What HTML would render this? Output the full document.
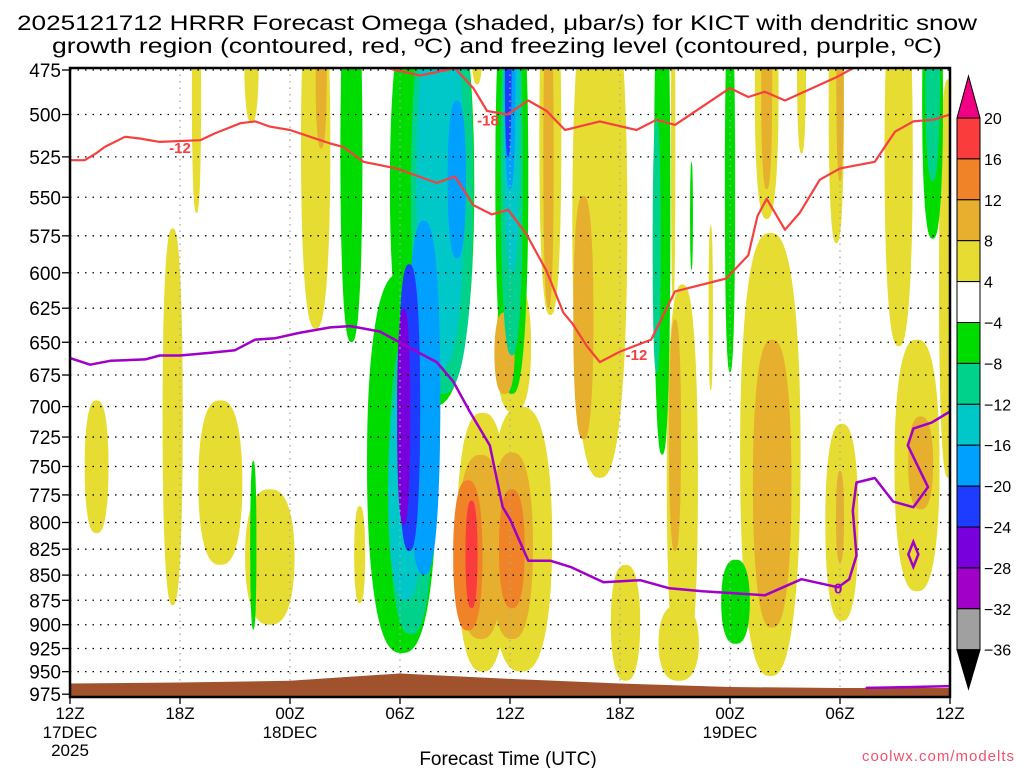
<!DOCTYPE html>
<html><head><meta charset="utf-8"><title>HRRR Omega KICT</title>
<style>
html,body{margin:0;padding:0;background:#fff;}
svg{display:block;font-family:"Liberation Sans",sans-serif;}
</style></head>
<body>
<svg id="chart" width="1024" height="768" viewBox="0 0 1024 768" xmlns="http://www.w3.org/2000/svg">
<defs><clipPath id="plotclip"><rect x="70" y="68" width="880" height="629"/></clipPath></defs>
<text x="497" y="30" font-size="21" text-anchor="middle" textLength="960" lengthAdjust="spacingAndGlyphs">2025121712 HRRR Forecast Omega (shaded, μbar/s) for KICT with dendritic snow</text>
<text x="497" y="53" font-size="21" text-anchor="middle" textLength="890" lengthAdjust="spacingAndGlyphs">growth region (contoured, red, ºC) and freezing level (contoured, purple, ºC)</text>
<g id="shading" clip-path="url(#plotclip)"></g>
<g id="grid"></g>
<g id="terrain" clip-path="url(#plotclip)"></g>
<g id="contours" clip-path="url(#plotclip)"></g>
<g id="axes"></g>
<g id="colorbar"></g>
<text x="508" y="765" font-size="19" text-anchor="middle">Forecast Time (UTC)</text>
<text x="1015" y="761" font-size="15" fill="#f0506e" text-anchor="end" letter-spacing="1">coolwx.com/modelts</text>
</svg>
<script>
// ---- data ----
const yTicks = [475,500,525,550,575,600,625,650,675,700,725,750,775,800,825,850,875,900,925,950,975];
const xTickHours = [0,6,12,18,24,30,36,42,48];
const xTickLabels = ["12Z","18Z","00Z","06Z","12Z","18Z","00Z","06Z","12Z"];
const xDateLabels = ["17DEC","","18DEC","","","","19DEC","",""];
const levelColors = {"1":"#e6dc32","2":"#e6af2d","3":"#f08228","4":"#fa3c3c","-1":"#00dc00","-2":"#00d28c","-3":"#00c8c8","-4":"#00a0ff","-5":"#1e3cff","-6":"#7800dc","-7":"#a000c8"};
// omega features: [hour center, half width hours, p top, p bottom, level]
const omegaFeatures = [
 [1.45,0.65,695,810,1],[5.6,0.55,570,880,1],[8.2,1.2,695,840,1],[10.9,1.35,770,900,1],
 [6.9,0.25,430,560,1],[9.9,0.4,430,505,1],[13.4,0.8,420,640,1],[13.7,0.3,440,520,2],
 [15.8,0.3,785,878,1],[22.5,1.4,705,950,1],[24.6,1.7,700,950,1],[24.2,0.95,605,705,1],
 [26.2,0.6,420,630,1],[22.2,0.3,440,483,1],[28.9,1.5,420,760,1],[33.4,0.85,608,955,1],
 [32.9,0.12,430,620,1],[34.95,0.12,568,687,1],[38.2,1.65,573,955,1],[38.0,0.65,420,564,1],
 [39.9,0.25,420,523,1],[41.8,0.42,420,580,1],[42.1,0.9,714,896,1],[45.2,0.77,420,653,1],
 [46.2,1.23,648,866,1],[47.9,0.5,480,760,1],[30.3,0.8,840,960,1],[33.2,1.1,880,960,1],
 [22.4,1.25,740,915,2],[24.1,1.15,738,915,2],[23.7,0.55,628,690,2],[26.1,0.28,440,625,2],
 [28.0,0.55,549,727,2],[33.0,0.33,633,827,2],[38.3,1.05,648,903,2],[38.0,0.3,430,545,2],
 [42.0,0.2,430,540,2],[42.0,0.22,754,838,2],[46.4,0.68,708,788,2],
 [21.7,0.8,762,906,3],[24.1,0.7,770,883,3],[21.9,0.33,780,883,4],
 [10.0,0.17,745,905,-1],[15.35,0.6,420,650,-1],[19.75,2.3,420,700,-1],[18.1,1.9,600,930,-1],
 [24.1,0.9,420,690,-1],[32.3,0.45,420,740,-1],[33.9,0.08,528,598,-1],[36.0,0.28,440,673,-1],
 [47.05,0.57,420,577,-1],[36.3,0.78,835,920,-1],
 [20.3,1.7,430,690,-2],[18.6,1.2,640,910,-2],[24.1,0.6,430,660,-2],[32.0,0.22,502,673,-2],[47.05,0.4,420,540,-2],
 [20.2,1.3,440,670,-3],[18.3,0.95,680,875,-3],[24.1,0.42,430,600,-3],
 [19.3,0.9,565,850,-4],[21.1,0.5,492,590,-4],[24.0,0.3,430,545,-4],
 [18.5,0.6,594,827,-5],[23.9,0.18,430,525,-5],
 [18.2,0.36,625,802,-6]
];
const groundHours = [0,6,12,18,24,30,36,42,48];
const groundPressure = [963,962,960,952,958,963,967,968,968];
// -18 C contour
const red18Hours = [16.9,19.1,21.0,22.0,22.75,23.85,25.0,26.0,27.0,28.9,30.9,32.0,33.0,36.0,37.0,37.9,39.0,41.8,42.9];
const red18Press = [473,478,474,485,498,500,492,498,509,504,509,503,506,485,490,487,492,479,473];
// -12 C contour
const red12Hours = [0,0.8,1.4,1.9,3.0,3.8,4.9,7.1,7.9,9.3,10.1,10.9,12,13.1,14.2,14.9,16.0,17.8,20.0,21.0,22.0,23.0,23.9,24.9,26.0,26.9,27.4,28.2,28.9,30.0,31.7,33.0,35.8,37.0,37.5,38.0,39.0,39.8,40.9,42.0,43.9,45.0,46.0,47.1,48];
const red12Press = [527,527,523,519,513,514,516,515,511,505,504,507,509,513,517,519,528,532,541,537,555,561,558,574,599,628,636,653,665,657,648,613,604,588,562,551,571,560,539,532,528,510,504,503,500];
// 0 C freezing level
const frzHours = [0,1.1,2.2,4.1,4.9,6,7.6,9.0,10.1,11.2,12.5,14.2,15.3,16.9,18.5,20.0,20.9,21.8,22.9,23.6,24.0,25.0,26.2,27.3,29.1,31.1,32.7,34.5,37.9,39.9,41.9,42.5,42.9,42.7,42.9,43.9,44.9,46.0,46.8,45.7,46.0,47.0,48];
const frzPress = [662,667,664,663,660,660,658,656,648,647,643,639,638,642,654,665,680,704,732,786,797,836,836,842,857,855,863,866,870,854,862,854,831,789,764,760,781,786,768,732,718,713,704];
const frzLowHours = [43.4,46,48];
const frzLowPress = [968,967,966];
const frzDiamond = [46.0,830];
const contourLabels = [[6.0,519,"-12","#f54040"],[30.9,659,"-12","#f54040"],[22.8,503,"-18","#f54040"],[41.9,862,"0","#a000c8"]];
const cbarLabels = ["20","16","12","8","4","−4","−8","−12","−16","−20","−24","−28","−32","−36"];
const cbarColors = ["#fa3c3c","#f08228","#e6af2d","#e6dc32","#ffffff","#00dc00","#00d28c","#00c8c8","#00a0ff","#1e3cff","#7800dc","#a000c8","#a0a0a0"];

// ---- scales ----
const X0=70, X1=950, Y0=70, K=868;
function xs(h){return X0+(X1-X0)*h/48;}
function ys(p){return Y0+Math.log(p/475)*K;}
const NS="http://www.w3.org/2000/svg";
function mk(tag,attrs,parent){const e=document.createElementNS(NS,tag);for(const k in attrs)e.setAttribute(k,attrs[k]);parent.appendChild(e);return e;}
function blobPath(cx,cy,rx,ry){
  const n=2.6; let d='';
  for(let i=0;i<=72;i++){
    const t=i/72*2*Math.PI, c=Math.cos(t), s=Math.sin(t);
    const x=cx+rx*Math.sign(c)*Math.pow(Math.abs(c),2/n);
    const y=cy+ry*Math.sign(s)*Math.pow(Math.abs(s),2/2.2);
    d+=(i?'L':'M')+x.toFixed(1)+','+y.toFixed(1);
  }
  return d+'Z';
}

// shading
const shading=document.getElementById('shading');
const sorted=omegaFeatures.slice().sort((a,b)=>Math.abs(a[4])-Math.abs(b[4]));
sorted.forEach(f=>{
  const y1=ys(f[2]), y2=ys(f[3]);
  const e=mk('path',{d:blobPath(xs(f[0]),(y1+y2)/2,(X1-X0)*f[1]/48,(y2-y1)/2),fill:levelColors[String(f[4])]},shading);
  
  
});

// grid
const grid=document.getElementById('grid');
yTicks.forEach(p=>{
  const l=mk('line',{x1:X0,x2:X1,y1:ys(p),y2:ys(p),stroke:'#000','stroke-width':1.3,'stroke-dasharray':'1.5 6'},grid);
  
  
});
xTickHours.forEach(h=>{
  const l=mk('line',{x1:xs(h),x2:xs(h),y1:68,y2:697,stroke:'#aaa','stroke-width':1.3,'stroke-dasharray':'1.5 5'},grid);
  
  
});

// terrain
const terr=document.getElementById('terrain');
let tp='M'+xs(groundHours[0])+','+697;
groundHours.forEach((h,i)=>{tp+=' L'+xs(h)+','+ys(groundPressure[i]);});
tp+=' L'+xs(48)+',697 Z';
const tpath=mk('path',{d:tp,fill:'#a0522d'},terr);



// contours
const cont=document.getElementById('contours');
function line(hs,ps,color,name,w){
  const d=hs.map((h,i)=>(i?'L':'M')+xs(h).toFixed(1)+','+ys(ps[i]).toFixed(1)).join(' ');
  const e=mk('path',{d:d,fill:'none',stroke:color,'stroke-width':w,'stroke-linejoin':'round'},cont);
  
  
}
line(red18Hours,red18Press,'#f54040','contour-minus18',2.2);
line(red12Hours,red12Press,'#f54040','contour-minus12',2.2);
line(frzHours,frzPress,'#a000c8','freezing-level',2.5);
line(frzLowHours,frzLowPress,'#a000c8','freezing-level-surface',2.5);
const dy1=ys(frzDiamond[1]-12), dy2=ys(frzDiamond[1]+12), dcx=xs(frzDiamond[0]), dw=5;
const dia=mk('path',{d:`M${dcx},${dy1} L${dcx+dw},${(dy1+dy2)/2} L${dcx},${dy2} L${dcx-dw},${(dy1+dy2)/2} Z`,fill:'none',stroke:'#a000c8','stroke-width':2.5},cont);


contourLabels.forEach(c=>{
  const t=mk('text',{x:xs(c[0]),y:ys(c[1])+6,'font-size':15,'font-weight':'bold',fill:c[3],'text-anchor':'middle'},cont);
  t.textContent=c[2];
  
  
});

// axes
const ax=document.getElementById('axes');
const fr=mk('rect',{x:X0,y:68,width:X1-X0,height:629,fill:'none',stroke:'#000','stroke-width':2.5},ax);


yTicks.forEach(p=>{
  const tk=mk('line',{x1:62,x2:70,y1:ys(p),y2:ys(p),stroke:'#000','stroke-width':1.3},ax);
  
  
  const t=mk('text',{x:61,y:ys(p)+7,'font-size':19,'text-anchor':'end'},ax);
  t.textContent=String(p);
  
  
});
xTickHours.forEach((h,i)=>{
  const tk=mk('line',{x1:xs(h),x2:xs(h),y1:697,y2:704,stroke:'#000','stroke-width':1.3},ax);
  
  
  const t=mk('text',{x:xs(h),y:719,'font-size':17,'text-anchor':'middle'},ax);
  t.textContent=xTickLabels[i];
  
  
  if(xDateLabels[i]){
    const d=mk('text',{x:xs(h),y:738,'font-size':17,'text-anchor':'middle'},ax);
    d.textContent=xDateLabels[i];
    
    
  }
});
const yr=mk('text',{x:70,y:756,'font-size':17,'text-anchor':'middle'},ax);
yr.textContent='2025';



// colorbar
const cb=document.getElementById('colorbar');
const CBX=957, CBW=23, CBT=118, CBH=40.9;
const tri1=mk('path',{d:`M${CBX},${CBT} L${CBX+CBW/2},76 L${CBX+CBW},${CBT} Z`,fill:'#f00082',stroke:'#000','stroke-width':1},cb);


cbarColors.forEach((c,i)=>{
  const r=mk('rect',{x:CBX,y:CBT+i*CBH,width:CBW,height:CBH,fill:c,stroke:'#000','stroke-width':1},cb);
  
  
});
const bot=CBT+cbarColors.length*CBH;
const tri2=mk('path',{d:`M${CBX},${bot} L${CBX+CBW/2},689 L${CBX+CBW},${bot} Z`,fill:'#000',stroke:'#000','stroke-width':1},cb);


cbarLabels.forEach((s,i)=>{
  const t=mk('text',{x:984,y:CBT+i*CBH+6,'font-size':16},cb);
  t.textContent=s;
  
  
});
</script>
</body></html>
